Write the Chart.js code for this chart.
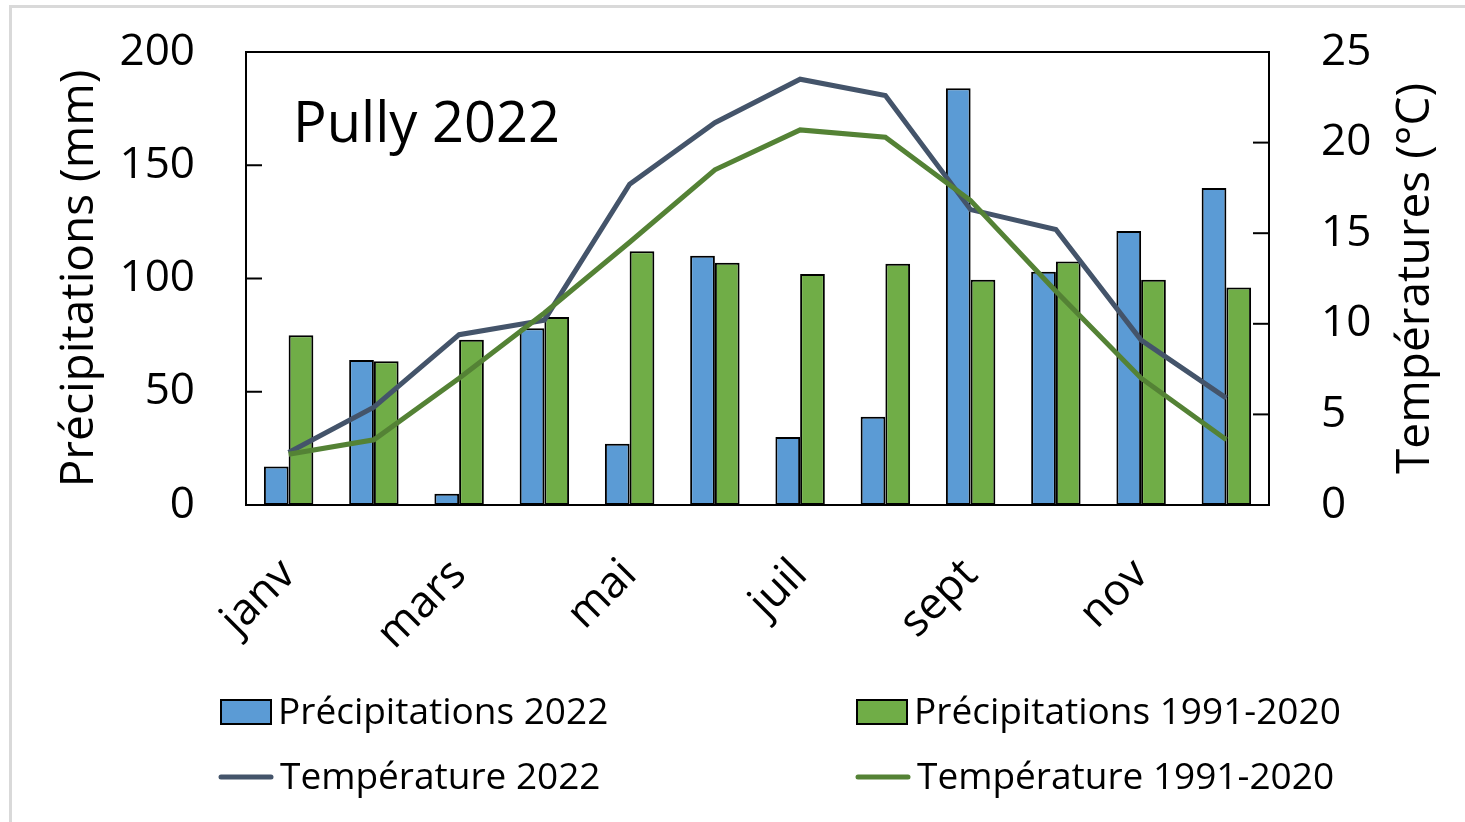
<!DOCTYPE html>
<html>
<head>
<meta charset="utf-8">
<script src="https://cdn.jsdelivr.net/npm/chart.js@4/dist/chart.umd.min.js"></script>
<style>
  html, body { margin: 0; padding: 0; background: #ffffff; }
  #wrap { position: relative; width: 1465px; height: 822px; }
  #frame { position: absolute; left: 9px; top: 5px; right: -10px; bottom: -10px;
           border-left: 3px solid #d9d9d9; border-top: 3px solid #d9d9d9; pointer-events: none; }
  canvas { position: absolute; left: 0; top: 0; }
</style>
</head>
<body>
<div id="wrap">
  <canvas id="c" width="1465" height="822"></canvas>
  <div id="frame"></div>
</div>
<script>
const months = ['janv', 'févr', 'mars', 'avr', 'mai', 'juin', 'juil', 'août', 'sept', 'oct', 'nov', 'déc'];
const precip2022 = [17, 64, 5, 78, 27, 110, 30, 39, 184, 103, 121, 140];
const precipNormal = [75, 63.5, 73, 83, 112, 107, 102, 106.5, 99.5, 107.5, 99.5, 96];
const temp2022 = [2.9, 5.4, 9.4, 10.2, 17.7, 21.1, 23.5, 22.6, 16.3, 15.2, 9.1, 5.9];
const tempNormal = [2.8, 3.6, 7.0, 10.6, 14.5, 18.5, 20.7, 20.3, 16.8, 11.8, 7.0, 3.6];
const precipTicks = [0, 50, 100, 150, 200];
const tempTicks = [0, 5, 10, 15, 20, 25];

const seriesLabels = ['Précipitations 2022', 'Précipitations 1991-2020', 'Température 2022', 'Température 1991-2020'];
const chartTitle = 'Pully 2022';
const leftTitle = 'Précipitations (mm)';
const rightTitle = 'Températures (°C)';

const FONT = "'Open Sans', sans-serif";
const COL_BLUE = '#5B9BD5';
const COL_GREEN = '#70AD47';
const COL_LINE22 = '#44546A';
const COL_LINENORM = '#548235';

const decorPlugin = {
  id: 'decor',
  beforeDatasetsDraw(chart) {
    const { ctx, chartArea: a, scales } = chart;
    ctx.save();
    ctx.strokeStyle = '#000';
    ctx.lineWidth = 2;
    ctx.beginPath();
    ctx.moveTo(a.left, a.top);
    ctx.lineTo(a.right, a.top);
    ctx.stroke();
    precipTicks.forEach(v => {
      const y = scales.y.getPixelForValue(v);
      ctx.beginPath(); ctx.moveTo(a.left, y); ctx.lineTo(a.left + 16, y); ctx.stroke();
    });
    tempTicks.forEach(v => {
      const y = scales.y1.getPixelForValue(v);
      ctx.beginPath(); ctx.moveTo(a.right, y); ctx.lineTo(a.right - 16, y); ctx.stroke();
    });
    ctx.restore();
  },
  afterDraw(chart) {
    const { ctx, chartArea: a } = chart;
    ctx.save();
    ctx.fillStyle = '#000';
    ctx.font = `56px ${FONT}`;
    ctx.textAlign = 'left';
    ctx.textBaseline = 'alphabetic';
    ctx.fillText(chartTitle, 293, 142);
    const cy = (a.top + a.bottom) / 2;
    ctx.font = `46px ${FONT}`;
    ctx.textAlign = 'center';
    ctx.textBaseline = 'middle';
    ctx.save(); ctx.translate(80, cy); ctx.rotate(-Math.PI / 2); ctx.fillText(leftTitle, 0, 0); ctx.restore();
    ctx.save(); ctx.translate(1416, cy); ctx.rotate(-Math.PI / 2); ctx.fillText(rightTitle, 0, 0); ctx.restore();
    const ds = chart.data.datasets;
    const items = [
      { d: ds[0], x: 221, y: 712, type: 'box' },
      { d: ds[1], x: 857, y: 712, type: 'box' },
      { d: ds[2], x: 219, y: 777, type: 'line' },
      { d: ds[3], x: 856, y: 777, type: 'line' }
    ];
    ctx.font = `37px ${FONT}`;
    ctx.textAlign = 'left';
    ctx.textBaseline = 'middle';
    items.forEach(it => {
      if (it.type === 'box') {
        ctx.fillStyle = it.d.backgroundColor;
        ctx.fillRect(it.x, it.y - 12, 50, 24);
        ctx.strokeStyle = '#000'; ctx.lineWidth = 2;
        ctx.strokeRect(it.x, it.y - 12, 50, 24);
        ctx.fillStyle = '#000';
        ctx.fillText(it.d.label, it.x + 57, it.y + 1);
      } else {
        ctx.strokeStyle = it.d.borderColor; ctx.lineWidth = 5; ctx.lineCap = 'round';
        ctx.beginPath(); ctx.moveTo(it.x + 2, it.y); ctx.lineTo(it.x + 52, it.y); ctx.stroke();
        ctx.fillStyle = '#000';
        ctx.fillText(it.d.label, it.x + 61, it.y + 1);
      }
    });
    ctx.restore();
  }
};

function fixVertical(width) {
  return s => { s.width = width; s.paddingTop = 0; s.paddingBottom = 0; };
}

new Chart(document.getElementById('c'), {
  data: {
    labels: months,
    datasets: [
      { type: 'bar', label: seriesLabels[0], data: precip2022, yAxisID: 'y', backgroundColor: COL_BLUE,
        borderColor: '#000', borderWidth: 2, borderSkipped: false, order: 2,
        categoryPercentage: 0.58, barPercentage: 1.0 },
      { type: 'bar', label: seriesLabels[1], data: precipNormal, yAxisID: 'y', backgroundColor: COL_GREEN,
        borderColor: '#000', borderWidth: 2, borderSkipped: false, order: 2,
        categoryPercentage: 0.58, barPercentage: 1.0 },
      { type: 'line', label: seriesLabels[2], data: temp2022, yAxisID: 'y1', borderColor: COL_LINE22,
        backgroundColor: COL_LINE22, borderWidth: 5, pointRadius: 0, tension: 0, order: 1 },
      { type: 'line', label: seriesLabels[3], data: tempNormal, yAxisID: 'y1', borderColor: COL_LINENORM,
        backgroundColor: COL_LINENORM, borderWidth: 5, pointRadius: 0, tension: 0, order: 0 }
    ]
  },
  options: {
    responsive: false,
    animation: false,
    devicePixelRatio: 1,
    layout: { padding: { top: 52, bottom: 0, left: 0, right: 0 } },
    plugins: { legend: { display: false }, tooltip: { enabled: false }, title: { display: false } },
    scales: {
      x: {
        type: 'category',
        offset: true,
        grid: { display: false, drawTicks: false },
        border: { display: true, color: '#000', width: 2 },
        ticks: {
          autoSkip: false, maxRotation: 45, minRotation: 45, padding: 44,
          color: '#000', font: { family: FONT, size: 44 },
          callback: (v, i) => (i % 2 === 0 ? months[i] : '')
        },
        afterFit: s => { s.height = 317; }
      },
      y: {
        position: 'left', min: 0, max: 200,
        grid: { display: false, drawTicks: false },
        border: { display: true, color: '#000', width: 2 },
        ticks: { stepSize: 50, padding: 51, color: '#000', font: { family: FONT, size: 44 } },
        afterFit: fixVertical(246)
      },
      y1: {
        position: 'right', min: 0, max: 25,
        grid: { display: false, drawTicks: false },
        border: { display: true, color: '#000', width: 2 },
        ticks: { stepSize: 5, padding: 52, color: '#000', font: { family: FONT, size: 44 } },
        afterFit: fixVertical(196)
      }
    }
  },
  plugins: [decorPlugin]
});
</script>
</body>
</html>
